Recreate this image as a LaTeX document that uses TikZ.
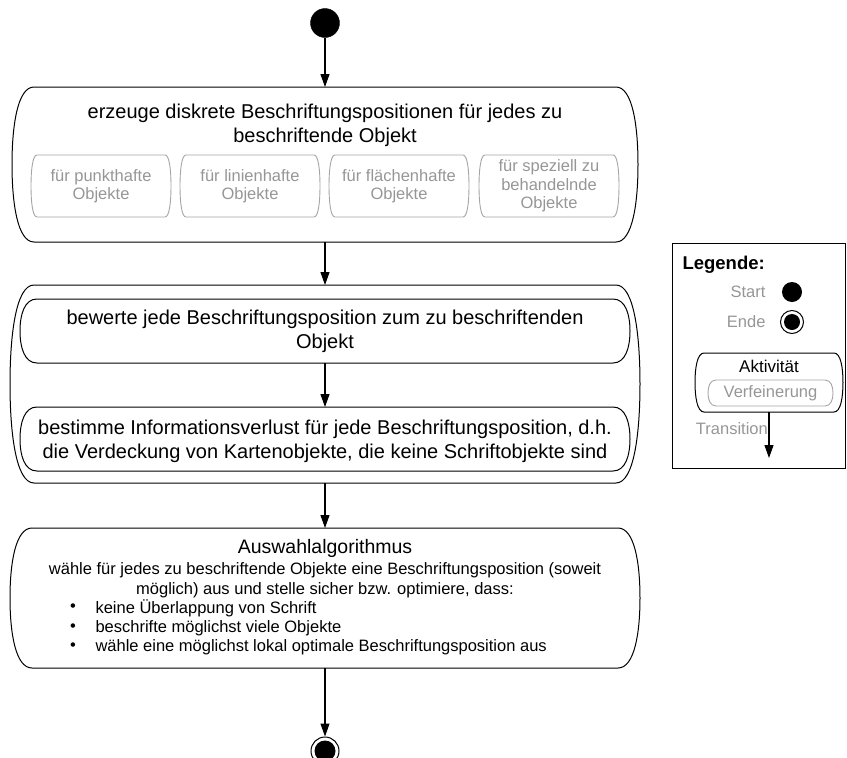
\documentclass[tikz,border=0pt]{standalone}
\usepackage{fontspec}
\setmainfont{Liberation Sans}
\usetikzlibrary{arrows.meta}
\definecolor{gtext}{RGB}{150,150,150}
\definecolor{gline}{RGB}{165,165,165}
% activity outline: [style]{x1}{ytop}{x2}{ybot}{bulge}
\newcommand\actbox[6][]{%
  \draw[#1] ({#2+#6},{#3}) -- ({#4-#6},{#3})
  .. controls ({#4-0.25*#6},{#3}) and ({#4},{#3+0.25*(#5-#3)}) .. ({#4},{(#3+#5)/2})
  .. controls ({#4},{#5-0.25*(#5-#3)}) and ({#4-0.25*#6},{#5}) .. ({#4-#6},{#5})
  -- ({#2+#6},{#5})
  .. controls ({#2+0.25*#6},{#5}) and ({#2},{#5-0.25*(#5-#3)}) .. ({#2},{(#3+#5)/2})
  .. controls ({#2},{#3+0.25*(#5-#3)}) and ({#2+0.25*#6},{#3}) .. cycle;}
\tikzset{
  arr/.style={line width=1.1pt,-{Triangle[length=13pt,width=9pt]}},
  frame/.style={inner sep=0pt,outer sep=0pt,draw=none},
  big/.style={font=\fontsize{20}{24}\selectfont,align=center},
  mid/.style={font=\fontsize{16.5}{19.5}\selectfont},
  sub/.style={font=\fontsize{16.5}{18.5}\selectfont,text=gtext,align=center},
  leg/.style={font=\fontsize{16.5}{19}\selectfont,text=gtext},
  outline/.style={line width=1pt},
  goutline/.style={line width=0.9pt,draw=gline}
}
\begin{document}
\begin{tikzpicture}[x=1pt,y=-1pt]
\useasboundingbox (0,0) rectangle (847,758);
% start
\node[circle,fill=black,draw=black,minimum size=29pt,inner sep=0pt] (start) at (325,23) {};
% box 1
\node[frame,minimum width=626pt,minimum height=155pt] (b1) at (325,164.5) {};
\actbox[outline]{12}{87}{638}{242}{22}
\node[big] (t1) at (325,125) {erzeuge diskrete Beschriftungspositionen für jedes zu\\beschriftende Objekt};
\actbox[goutline]{31}{155}{171}{217}{6}
\actbox[goutline]{180}{155}{320}{217}{6}
\actbox[goutline]{329}{155}{469}{217}{6}
\actbox[goutline]{479}{155}{619}{217}{6}
\node[sub] (s1) at (101,186) {für punkthafte\\Objekte};
\node[sub] (s2) at (250,186) {für linienhafte\\Objekte};
\node[sub] (s3) at (399,186) {für flächenhafte\\Objekte};
\node[sub] (s4) at (549,186) {für speziell zu\\behandelnde\\Objekte};
% box 2
\node[frame,minimum width=630pt,minimum height=198pt] (b2) at (325,384) {};
\actbox[outline]{10}{285}{640}{483}{24}
\node[frame,minimum width=610pt,minimum height=64pt] (b2a) at (325,331) {};
\actbox[outline]{20}{299}{630}{363}{17}
\node[big] (t2a) at (325,331) {bewerte jede Beschriftungsposition zum zu beschriftenden\\Objekt};
\node[frame,minimum width=610pt,minimum height=64pt] (b2b) at (325,439) {};
\actbox[outline]{20}{407}{630}{471}{17}
\node[big] (t2b) at (325,441) {bestimme Informationsverlust für jede Beschriftungsposition, d.h.\\die Verdeckung von Kartenobjekte, die keine Schriftobjekte sind};
% box 3
\node[frame,minimum width=630pt,minimum height=140pt] (b3) at (325,598) {};
\actbox[outline]{10}{528}{640}{668}{22}
\node[font=\fontsize{19.5}{23}\selectfont] (t3) at (325,548) {Auswahlalgorithmus};
\node[mid,align=center] (t3b) at (325,580) {wähle für jedes zu beschriftende Objekte eine Beschriftungsposition (soweit\\möglich) aus und stelle sicher bzw. optimiere, dass:};
\node[mid] (bu1) at (73,608) {•};
\node[mid] (bu2) at (73,628) {•};
\node[mid] (bu3) at (73,647) {•};
\node[mid,anchor=west] (l1) at (92,608) {keine Überlappung von Schrift};
\node[mid,anchor=west] (l2) at (92,628) {beschrifte möglichst viele Objekte};
\node[mid,anchor=west] (l3) at (92,647) {wähle eine möglichst lokal optimale Beschriftungsposition aus};
% end
\node[circle,draw=black,line width=1pt,minimum size=28pt,inner sep=0pt] (end) at (325,751) {};
\fill (end.center) circle (10.5);
% connectors
\draw[arr] (start) -- (b1.north);
\draw[arr] (b1.south) -- (b2.north);
\draw[arr] (b2a.south) -- (b2b.north);
\draw[arr] (b2.south) -- (b3.north);
\draw[arr] (b3.south) -- (end.north);
% legend
\node[frame,draw=black,line width=1pt,minimum width=173pt,minimum height=225pt] (legend) at (758.5,355.5) {};
\node[font=\fontsize{18.5}{21}\selectfont\bfseries,anchor=west] (legt) at (679,265) {Legende:};
\node[leg,anchor=east] (lstart) at (769,292) {Start};
\node[circle,fill=black,minimum size=20pt,inner sep=0pt] (cstart) at (792,292) {};
\node[leg,anchor=east] (lende) at (769,322) {Ende};
\node[circle,draw=black,line width=1pt,minimum size=23pt,inner sep=0pt] (cende) at (792,322) {};
\fill (cende.center) circle (8);
\node[frame,minimum width=148pt,minimum height=59pt] (mini) at (769,382.5) {};
\actbox[outline]{695}{353}{843}{412}{9}
\node[font=\fontsize{17}{20}\selectfont] (akt) at (769,366) {Aktivität};
\actbox[goutline]{708}{380}{833}{406}{8}
\node[leg] (verf) at (770.5,393) {Verfeinerung};
\coordinate (tend) at (769,458);
\draw[arr] (mini.south) -- (tend);
\node[leg,anchor=east,inner sep=1pt] (trans) at (769,429) {Transition};
\end{tikzpicture}
\end{document}
